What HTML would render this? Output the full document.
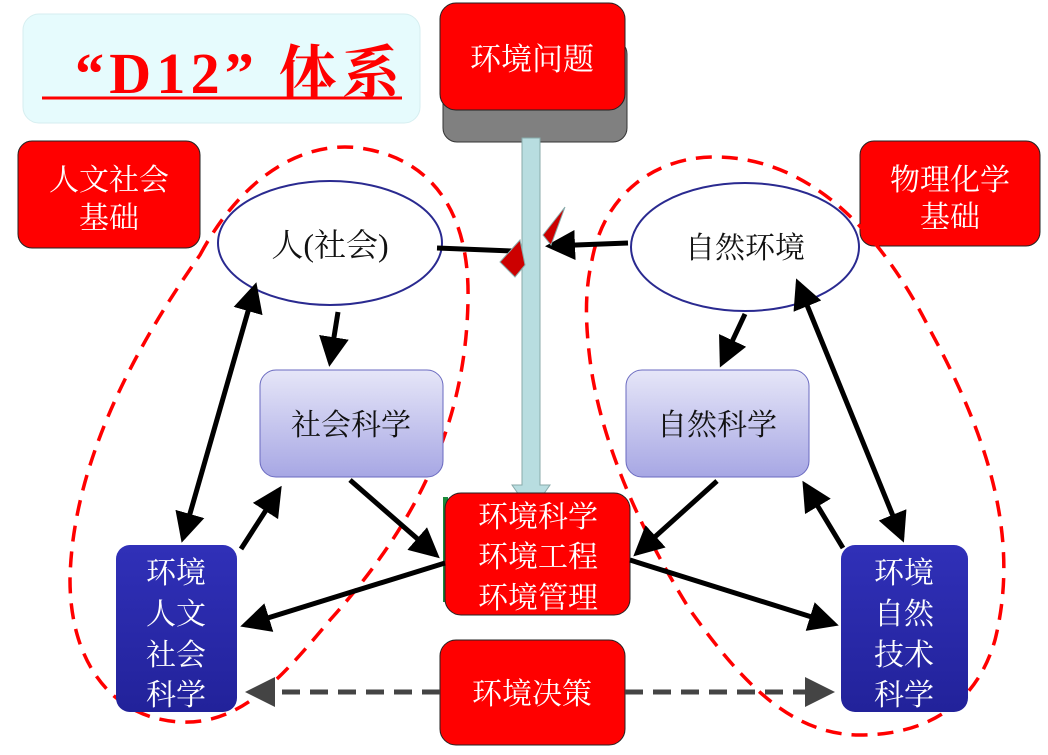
<!DOCTYPE html>
<html><head><meta charset="utf-8"><style>
html,body{margin:0;padding:0;background:#fff;width:1048px;height:755px;overflow:hidden}
svg text{font-family:"Liberation Serif","Noto Serif CJK SC","Noto Sans CJK SC",serif}
</style></head><body>
<svg width="1048" height="755" viewBox="0 0 1048 755" xmlns="http://www.w3.org/2000/svg">
<defs>
<marker id="ah" markerWidth="6" markerHeight="6" refX="5" refY="3" orient="auto" markerUnits="strokeWidth">
<path d="M0,0 L6,3 L0,6 z" fill="#000"/></marker>
<marker id="ahs" markerWidth="6" markerHeight="6" refX="1" refY="3" orient="auto" markerUnits="strokeWidth">
<path d="M6,0 L0,3 L6,6 z" fill="#000"/></marker>
<marker id="gh" markerWidth="6" markerHeight="6" refX="5" refY="3" orient="auto" markerUnits="strokeWidth">
<path d="M0,0 L6,3 L0,6 z" fill="#444"/></marker>
<linearGradient id="lav" x1="0" y1="0" x2="0" y2="1"><stop offset="0" stop-color="#e6e6f8"/><stop offset="1" stop-color="#a7a7e4"/></linearGradient>
<linearGradient id="blu" x1="0" y1="0" x2="0" y2="1"><stop offset="0" stop-color="#3030b8"/><stop offset="1" stop-color="#22229a"/></linearGradient>
</defs>

<!-- title -->
<rect x="23" y="14" width="397" height="109" rx="16" fill="#e6fbfd" stroke="#d6eef0"/>
<text x="75" y="93" font-size="58" font-weight="bold" fill="#f00" textLength="325" lengthAdjust="spacing">“D12” 体系</text>
<line x1="42" y1="98" x2="402" y2="98" stroke="#f00" stroke-width="3"/>

<!-- 环境问题 -->
<rect x="443" y="40" width="184" height="102" rx="14" fill="#808080" stroke="#333"/>
<rect x="440" y="3" width="185" height="107" rx="16" fill="#f00" stroke="#222"/>
<text x="532" y="70" text-anchor="middle" font-size="31" fill="#fff">环境问题</text>

<!-- foundation boxes -->
<rect x="18" y="141" width="182" height="107" rx="14" fill="#f00" stroke="#222"/>
<text x="109" y="190" text-anchor="middle" font-size="30" fill="#fff">人文社会</text>
<text x="109" y="228" text-anchor="middle" font-size="30" fill="#fff">基础</text>
<rect x="860" y="141" width="180" height="105" rx="14" fill="#f00" stroke="#222"/>
<text x="950" y="190" text-anchor="middle" font-size="30" fill="#fff">物理化学</text>
<text x="950" y="227" text-anchor="middle" font-size="30" fill="#fff">基础</text>

<!-- dashed loops -->
<path d="M200,255 C240,180 300,140 360,148 C430,158 470,210 468,300 C466,420 420,520 330,620 C280,680 240,725 180,722 C110,718 70,660 70,580 C72,460 140,340 200,255 Z" fill="none" stroke="#f00" stroke-width="3.5" stroke-dasharray="16,10"/>
<path d="M592,260 C605,190 660,155 720,157 C810,160 880,230 930,330 C990,440 1020,540 995,640 C975,710 920,735 860,735 C790,735 740,680 690,610 C640,530 600,440 590,360 C585,320 585,290 592,260 Z" fill="none" stroke="#f00" stroke-width="3.5" stroke-dasharray="16,10"/>

<!-- ellipses -->
<ellipse cx="330" cy="243" rx="112" ry="62" fill="#fff" stroke="#2a2a90" stroke-width="2"/>
<text x="330" y="256" text-anchor="middle" font-size="32" fill="#111">人(社会)</text>
<ellipse cx="745" cy="247" rx="114" ry="64" fill="#fff" stroke="#2a2a90" stroke-width="2"/>
<text x="745" y="258" text-anchor="middle" font-size="30" fill="#111">自然环境</text>

<!-- vertical bar -->
<path d="M522,138 L540,138 L540,485 L550,485 L531,512 L512,485 L522,485 Z" fill="#b8dde0" stroke="#8aa" stroke-width="1"/>

<!-- horizontal arrows to bar -->
<line x1="437" y1="248" x2="512" y2="251" stroke="#000" stroke-width="5"/>
<path d="M500,262 L520,240 L525,265 L515,277 Z" fill="#c00" stroke="#8aa"/>
<line x1="628" y1="243" x2="550" y2="246" stroke="#000" stroke-width="5" marker-end="url(#ah)"/>
<path d="M543,235 L565,207 L551,245 Z" fill="#c00" stroke="#8aa"/>

<!-- boxes -->
<rect x="260" y="370" width="183" height="107" rx="16" fill="url(#lav)" stroke="#6a6ac0"/>
<text x="351" y="435" text-anchor="middle" font-size="30" fill="#111">社会科学</text>
<rect x="626" y="370" width="183" height="107" rx="16" fill="url(#lav)" stroke="#6a6ac0"/>
<text x="717" y="435" text-anchor="middle" font-size="30" fill="#111">自然科学</text>

<rect x="443" y="497" width="5" height="105" fill="#1a8a3a"/>
<rect x="445" y="493" width="185" height="122" rx="16" fill="#f00" stroke="#222"/>
<text x="538" y="527" text-anchor="middle" font-size="30" fill="#fff">环境科学</text>
<text x="538" y="567" text-anchor="middle" font-size="30" fill="#fff">环境工程</text>
<text x="538" y="608" text-anchor="middle" font-size="30" fill="#fff">环境管理</text>

<rect x="440" y="640" width="185" height="105" rx="16" fill="#f00" stroke="#222"/>
<text x="532" y="704" text-anchor="middle" font-size="30" fill="#fff">环境决策</text>

<rect x="116" y="545" width="121" height="167" rx="14" fill="url(#blu)"/>
<text x="176" y="583" text-anchor="middle" font-size="30" fill="#fff">环境</text>
<text x="176" y="624" text-anchor="middle" font-size="30" fill="#fff">人文</text>
<text x="176" y="665" text-anchor="middle" font-size="30" fill="#fff">社会</text>
<text x="176" y="705" text-anchor="middle" font-size="30" fill="#fff">科学</text>
<rect x="841" y="545" width="127" height="167" rx="14" fill="url(#blu)"/>
<text x="904" y="583" text-anchor="middle" font-size="30" fill="#fff">环境</text>
<text x="904" y="624" text-anchor="middle" font-size="30" fill="#fff">自然</text>
<text x="904" y="665" text-anchor="middle" font-size="30" fill="#fff">技术</text>
<text x="904" y="705" text-anchor="middle" font-size="30" fill="#fff">科学</text>

<!-- arrows -->
<g stroke="#000" stroke-width="5" fill="none">
<line x1="338" y1="312" x2="330" y2="362" marker-end="url(#ah)"/>
<line x1="255" y1="287" x2="183" y2="538" marker-end="url(#ah)" marker-start="url(#ahs)"/>
<line x1="241" y1="549" x2="279" y2="490" marker-end="url(#ah)"/>
<line x1="350" y1="480" x2="436" y2="555" marker-end="url(#ah)"/>
<line x1="445" y1="563" x2="245" y2="625" marker-end="url(#ah)"/>
<line x1="745" y1="314" x2="722" y2="363" marker-end="url(#ah)"/>
<line x1="798" y1="283" x2="902" y2="538" marker-end="url(#ah)" marker-start="url(#ahs)"/>
<line x1="843" y1="548" x2="805" y2="485" marker-end="url(#ah)"/>
<line x1="717" y1="481" x2="637" y2="553" marker-end="url(#ah)"/>
<line x1="630" y1="560" x2="834" y2="624" marker-end="url(#ah)"/>
</g>
<g stroke="#444" stroke-width="5" stroke-dasharray="18,10">
<line x1="440" y1="692" x2="250" y2="692" marker-end="url(#gh)"/>
<line x1="625" y1="692" x2="830" y2="692" marker-end="url(#gh)"/>
</g>
</svg>
</body></html>
